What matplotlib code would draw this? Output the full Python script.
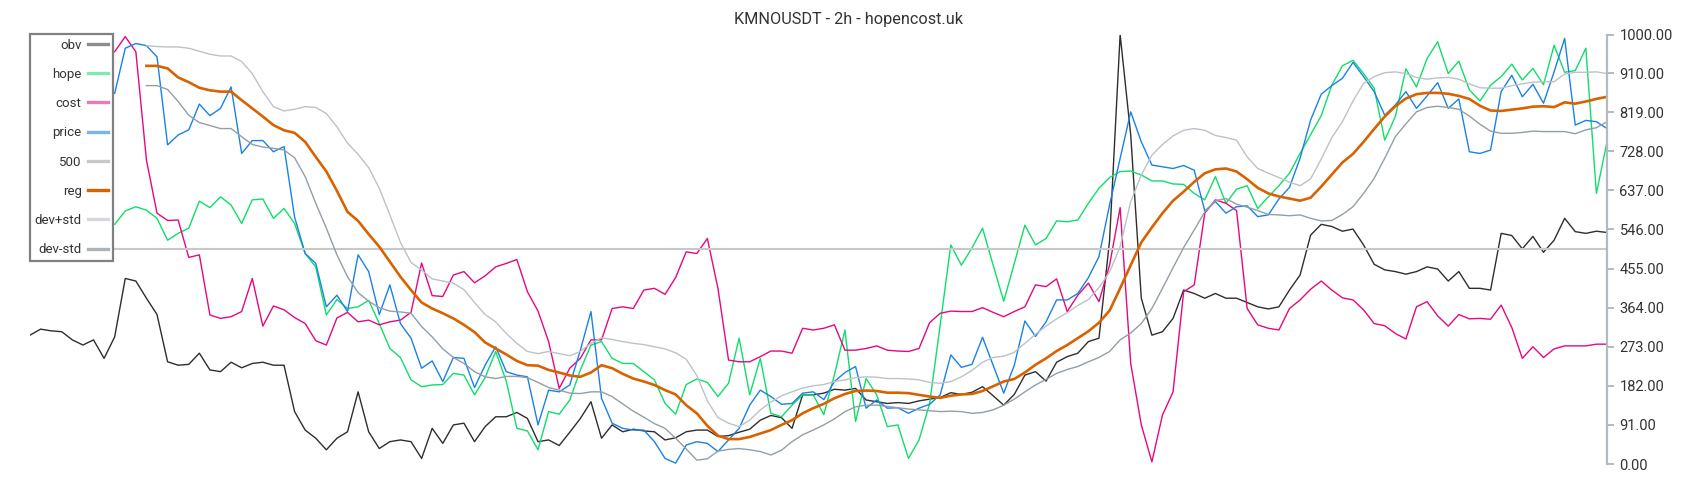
import matplotlib
matplotlib.use("Agg")
import matplotlib.pyplot as plt
from matplotlib.lines import Line2D
import numpy as np

plt.rcParams["font.family"] = ["Roboto", "DejaVu Sans"]

nan = np.nan

# ---- data (150 samples, 2h candles) ----
obv = [300, 314, 310, 308, 289, 277, 289, 246, 296, 432, 426, 386, 348, 238, 230, 232, 258, 219, 215, 237,
       224, 234, 237, 230, 230, 122, 79, 60, 33, 60, 75, 168, 75, 36, 52, 56, 52, 13, 83, 48,
       91, 95, 52, 87, 110, 110, 120, 106, 52, 56, 43, 74, 106, 145, 60, 91, 75, 81, 77, 75,
       56, 61, 75, 79, 79, 64, 66, 74, 81, 102, 113, 108, 83, 161, 161, 165, 174, 172, 176, 149,
       145, 141, 143, 141, 147, 151, 155, 166, 162, 167, 180, 159, 137, 162, 207, 215, 193, 237, 250, 258,
       285, 293, 520, 1000, 766, 386, 300, 308, 339, 405, 397, 386, 397, 386, 386, 376, 366, 361, 366, 405,
       440, 533, 558, 553, 542, 547, 510, 465, 452, 448, 442, 448, 459, 454, 426, 448, 409, 409, 405, 537,
       532, 501, 530, 493, 521, 572, 541, 537, 542, 539]

hope = [nan, nan, nan, nan, nan, nan, nan, 556, 558, 589, 599, 591, 572, 521, 537, 549, 612, 597, 622, 603,
        560, 615, 617, 572, 595, 560, 490, 459, 347, 383, 362, 366, 381, 327, 269, 248, 196, 180, 184, 185,
        211, 207, 161, 201, 262, 193, 83, 77, 33, 122, 116, 149, 219, 277, 285, 246, 234, 234, 215, 196,
        141, 116, 185, 198, 190, 157, 188, 293, 161, 246, 118, 110, 137, 161, 161, 115, 207, 312, 99, 199,
        161, 87, 91, 13, 56, 141, 324, 510, 463, 503, 549, 463, 379, 467, 556, 510, 525, 566, 564, 568,
        607, 642, 667, 681, 682, 673, 659, 659, 652, 651, 630, 615, 669, 607, 640, 648, 595, 622, 648, 677,
        723, 767, 811, 882, 927, 940, 909, 875, 754, 809, 920, 878, 944, 983, 909, 938, 871, 845, 882, 902,
        931, 894, 921, 883, 975, 912, 916, 968, 630, 750]

cost = [nan, nan, nan, nan, nan, nan, nan, 950, 960, 995, 960, 708, 584, 567, 568, 481, 487, 347, 339, 343,
        355, 432, 321, 368, 359, 341, 327, 287, 277, 340, 353, 331, 335, 324, 331, 335, 353, 468, 392, 390,
        440, 448, 422, 438, 459, 467, 476, 401, 356, 285, 176, 223, 246, 289, 289, 362, 366, 362, 405, 409,
        395, 434, 494, 490, 525, 409, 242, 238, 238, 250, 263, 263, 258, 316, 312, 316, 324, 265, 265, 269,
        275, 265, 263, 262, 269, 329, 351, 356, 355, 355, 364, 353, 343, 355, 366, 417, 413, 431, 355, 393,
        421, 378, 463, 597, 234, 91, 5, 114, 168, 401, 417, 584, 615, 607, 590, 362, 324, 316, 312, 362,
        382, 407, 426, 405, 387, 382, 359, 327, 322, 304, 291, 366, 378, 345, 321, 348, 338, 339, 337, 370,
        318, 246, 273, 248, 268, 275, 275, 275, 279, 279]

price = [nan, nan, nan, nan, nan, nan, nan, 865, 863, 968, 979, 974, 948, 743, 766, 778, 838, 811, 828, 878,
         723, 753, 753, 727, 739, 575, 490, 467, 366, 393, 355, 487, 448, 348, 417, 327, 293, 223, 240, 192,
         248, 246, 178, 230, 273, 215, 207, 203, 91, 172, 168, 184, 265, 355, 153, 95, 83, 79, 79, 52,
         13, 2, 44, 52, 48, 29, 56, 83, 137, 172, 157, 139, 141, 165, 168, 150, 192, 213, 227, 130,
         149, 130, 131, 118, 130, 139, 161, 254, 225, 232, 295, 230, 165, 230, 333, 297, 331, 382, 382, 397,
         434, 483, 603, 712, 820, 750, 696, 692, 688, 695, 684, 589, 611, 584, 599, 601, 576, 580, 617, 644,
         712, 801, 861, 881, 898, 935, 902, 867, 812, 836, 867, 828, 857, 888, 828, 850, 727, 723, 731, 867,
         905, 855, 884, 840, 913, 991, 789, 800, 797, 781]

level = [500] * 150

reg = [nan] * 11 + [927, 927, 921, 900, 889, 876, 870, 867, 867,
       847, 828, 809, 789, 777, 771, 750, 715, 681, 636, 587, 566, 535, 506, 471, 436, 405, 376, 362, 351,
       339, 324, 307, 283, 269, 255, 240, 230, 229, 219, 213, 206, 203, 213, 230, 223, 210, 199, 192, 184,
       172, 162, 137, 118, 89, 66, 58, 58, 63, 71, 79, 91, 102, 118, 130, 140, 153, 163, 170, 171,
       170, 166, 166, 165, 161, 157, 154, 159, 162, 163, 170, 181, 192, 198, 213, 231, 246, 263, 277, 293,
       309, 329, 357, 409, 463, 516, 551, 584, 613, 634, 657, 677, 686, 688, 681, 663, 643, 630, 623, 618,
       613, 620, 646, 674, 702, 722, 750, 780, 809, 833, 851, 861, 864, 864, 862, 857, 850, 834, 823, 822,
       825, 828, 832, 833, 831, 842, 839, 844, 850, 855]

dev_hi = [nan] * 11 + [974, 972, 971, 971, 968, 961, 954, 950, 950,
          937, 909, 867, 832, 822, 826, 832, 830, 816, 785, 747, 721, 690, 642, 580, 516, 469, 452, 431, 426,
          421, 406, 376, 348, 331, 304, 281, 262, 257, 262, 257, 252, 262, 281, 294, 290, 285, 281, 278, 273,
          268, 259, 244, 206, 147, 108, 95, 87, 102, 126, 144, 159, 168, 177, 182, 185, 192, 196, 201, 203,
          202, 199, 199, 198, 196, 190, 188, 192, 203, 218, 237, 248, 251, 260, 281, 302, 321, 338, 352, 369,
          383, 411, 447, 506, 611, 673, 719, 744, 764, 777, 781, 777, 765, 760, 754, 715, 688, 677, 667, 656,
          648, 664, 710, 760, 797, 845, 886, 902, 911, 913, 909, 900, 896, 899, 900, 896, 885, 876, 875, 875,
          881, 885, 889, 890, 890, 908, 912, 912, 913, 909]

dev_lo = [nan] * 11 + [881, 881, 872, 844, 812, 795, 788, 781, 781,
          762, 744, 738, 735, 731, 713, 669, 607, 549, 487, 436, 399, 379, 364, 356, 354, 351, 320, 296, 268,
          248, 234, 215, 203, 199, 204, 204, 201, 190, 178, 172, 165, 164, 168, 168, 157, 140, 123, 109, 94,
          83, 60, 35, 9, 12, 30, 34, 36, 33, 29, 21, 32, 52, 68, 79, 91, 105, 122, 133, 137,
          137, 134, 131, 128, 126, 124, 122, 123, 122, 118, 120, 126, 137, 151, 168, 184, 197, 211, 220, 227,
          238, 248, 262, 289, 305, 327, 362, 409, 457, 504, 545, 587, 613, 618, 605, 598, 590, 581, 580, 578,
          580, 572, 566, 567, 581, 599, 630, 665, 712, 762, 792, 820, 830, 833, 830, 826, 810, 791, 775, 770,
          770, 772, 775, 774, 774, 774, 769, 778, 783, 797]

yticks = [0, 91, 182, 273, 364, 455, 546, 637, 728, 819, 910, 1000]

x = np.arange(len(obv))

fig = plt.figure(figsize=(17, 5), dpi=100)
ax = fig.add_axes([30 / 1700, 36 / 500, 1577 / 1700, 429.5 / 500])

ax.plot(x, obv, color="#2e2e2e", lw=1.0)
ax.plot(x, hope, color="#10dd6a", lw=1.0)
ax.plot(x, cost, color="#e5087e", lw=1.0)
ax.plot(x, price, color="#1a82e4", lw=1.0)
ax.plot(x, level, color="#c8c8c8", lw=1.5)
ax.plot(x, reg, color="#d96200", lw=1.9)
ax.plot(x, dev_hi, color="#bcc2c8", lw=1.0)
ax.plot(x, dev_lo, color="#939ea8", lw=1.0)

ax.set_xlim(0, len(obv) - 1)
ax.set_ylim(0, 1000)

for s in ["left", "top", "bottom"]:
    ax.spines[s].set_visible(False)
ax.spines["right"].set_color("#b3bac0")
ax.spines["right"].set_linewidth(1.6)
ax.set_xticks([])
ax.yaxis.tick_right()
ax.set_yticks(yticks)
ax.set_yticklabels([f"{v:.2f}" for v in yticks])
ax.tick_params(axis="y", colors="#b3bac0", length=5, width=1.4, pad=4,
               labelsize=10.5, labelcolor="#333333")

fig.suptitle("KMNOUSDT - 2h - hopencost.uk", x=0.499, y=1 - 19.5 / 500, va="center",
             fontsize=11.7, color="#333333")

# legend with lighter handles, label first
handles = [
    Line2D([], [], color="#8c8c8c", lw=2.4),
    Line2D([], [], color="#80e8b0", lw=2.4),
    Line2D([], [], color="#ec7ab8", lw=2.4),
    Line2D([], [], color="#78b4ee", lw=2.4),
    Line2D([], [], color="#c8c8c8", lw=2.4),
    Line2D([], [], color="#d96200", lw=2.4),
    Line2D([], [], color="#d4d8dc", lw=2.4),
    Line2D([], [], color="#aab3bb", lw=2.4),
]
labels = ["obv", "hope", "cost", "price", "500", "reg", "dev+std", "dev-std"]
leg = ax.legend(handles, labels, loc="upper left",
                bbox_to_anchor=(30 / 1700, 1 - 34 / 500), bbox_transform=fig.transFigure,
                markerfirst=False, fontsize=9.5, handlelength=1.5, handletextpad=0.5,
                labelspacing=1.23, borderpad=0.35, borderaxespad=0,
                fancybox=False, framealpha=1, edgecolor="#808080")
leg.get_frame().set_linewidth(1.6)
for t in leg.get_texts():
    t.set_color("#333333")

fig.savefig("out.png", dpi=100)
